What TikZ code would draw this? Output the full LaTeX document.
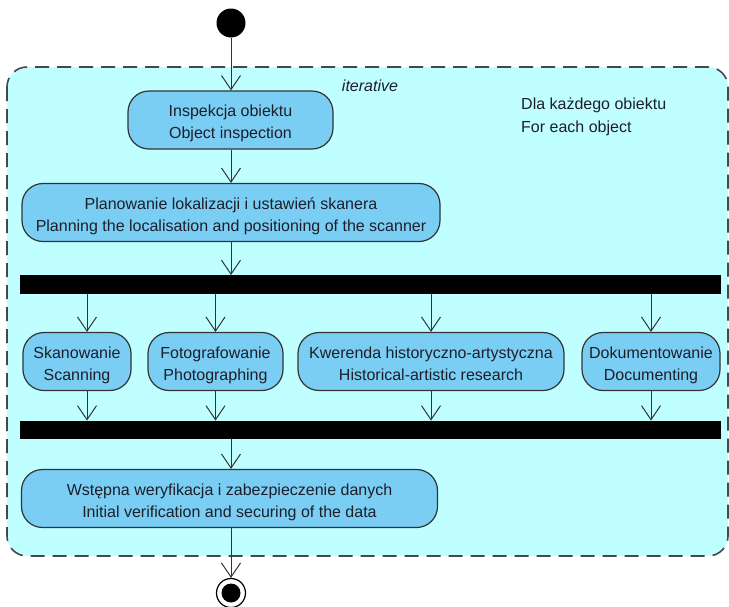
\documentclass[tikz,border=0pt]{standalone}
\usepackage{fontspec}
\setmainfont{Liberation Sans}
\usetikzlibrary{arrows.meta}
\definecolor{regionfill}{HTML}{BFFFFF}
\definecolor{actfill}{HTML}{7ACEF4}
\definecolor{edgegray}{HTML}{333333}
\definecolor{txt}{HTML}{1E1E2A}
\tikzset{
  act/.style={draw=edgegray, line width=1.2pt, fill=actfill, rounded corners=21pt,
    minimum height=58pt, inner sep=0pt, align=center, text=txt,
    text height=40pt, text depth=3pt,
    font=\fontsize{16}{22}\selectfont},
  bar/.style={fill=black, draw=none, minimum height=18.5pt, inner sep=0pt},
  arr/.style={draw=edgegray, line width=1pt, -{Straight Barb[length=14pt,width=19pt,line width=1pt]}},
  regionbox/.style={draw=edgegray!90, fill=regionfill, line width=1.6pt, dash pattern=on 14pt off 8pt, rounded corners=20pt},
  lbl/.style={text=txt, inner sep=0pt, font=\fontsize{16}{23}\selectfont}
}
\begin{document}
\begin{tikzpicture}[x=1pt,y=-1pt]
\useasboundingbox (0,0) rectangle (729,606);
% region
\draw[regionbox] (7,67) rectangle (728,556);
\node[lbl, font=\fontsize{16}{18}\selectfont\itshape] (iter) at (370,85.5) {iterative};
\node[lbl, align=left, anchor=north west] (each) at (521,97.5) {Dla każdego obiektu\\For each object};
% nodes
\node[circle, fill=black, minimum size=29pt, inner sep=0pt] (start) at (231,23) {};
\node[act, minimum width=205pt] (insp) at (230.5,120) {Inspekcja obiektu\\Object inspection};
\node[act, minimum width=418pt] (plan) at (231,212.5) {Planowanie lokalizacji i ustawień skanera\\Planning the localisation and positioning of the scanner};
\node[bar, minimum width=701pt] (fork) at (370.5,284.5) {};
\node[act, minimum width=108pt] (scan) at (77,361.5) {Skanowanie\\Scanning};
\node[act, minimum width=135pt] (photo) at (215.5,361.5) {Fotografowanie\\Photographing};
\node[act, minimum width=266pt] (query) at (431,361.5) {Kwerenda historyczno-artystyczna\\Historical-artistic research};
\node[act, minimum width=138pt] (doc) at (651,361.5) {Dokumentowanie\\Documenting};
\node[bar, minimum width=701pt] (join) at (370.5,430) {};
\node[act, minimum width=416pt] (verif) at (229.5,498.5) {Wstępna weryfikacja i zabezpieczenie danych\\Initial verification and securing of the data};
\node[circle, draw=black, line width=1.2pt, fill=white, minimum size=29pt, inner sep=0pt] (end) at (231,593) {};
\node[circle, fill=black, minimum size=19pt, inner sep=0pt] (endin) at (231,593) {};
% columns
\coordinate (cx) at (231,0);
\coordinate (sx) at (87,0);
% connectors
\draw[arr] (start) -- (insp.north -| start);
\draw[arr] (insp.south -| cx) -- (plan.north -| cx);
\draw[arr] (plan.south -| cx) -- (fork.north -| cx);
\draw[arr] (fork.south -| sx) -- (scan.north -| sx);
\draw[arr] (fork.south -| photo) -- (photo.north);
\draw[arr] (fork.south -| query) -- (query.north);
\draw[arr] (fork.south -| doc) -- (doc.north);
\draw[arr] (scan.south -| sx) -- (join.north -| sx);
\draw[arr] (photo.south) -- (join.north -| photo);
\draw[arr] (query.south) -- (join.north -| query);
\draw[arr] (doc.south) -- (join.north -| doc);
\draw[arr] (join.south -| cx) -- (verif.north -| cx);
\draw[arr] (verif.south -| cx) -- (end.north);
\end{tikzpicture}
\end{document}
